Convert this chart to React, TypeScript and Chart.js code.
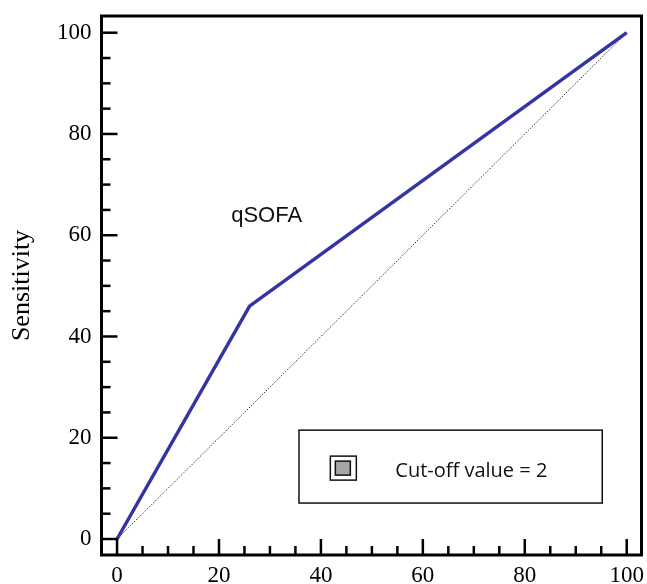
import React, { useEffect, useRef } from "react";
import { Chart, registerables } from "chart.js";

Chart.register(...registerables);

// ---- data ----
const curveX = [0, 26, 100]; // 100 - Specificity
const curveY = [0, 46, 100]; // Sensitivity
const refX = [0, 100];
const refY = [0, 100];
const xTickValues = [0, 20, 40, 60, 80, 100];
const yTickValues = [0, 20, 40, 60, 80, 100];
const minorStep = 5;
const curveLabel = "qSOFA";
const legendText = "Cut-off value = 2";
const yTitle = "Sensitivity";

const SERIF = "'Liberation Serif', 'Times New Roman', serif";
const SANS = "'Liberation Sans', Arial, sans-serif";

const framePlugin = {
  id: "framePlugin",
  afterDraw(chart: any) {
    const { ctx, chartArea } = chart;
    const xs = chart.scales.x;
    const ys = chart.scales.y;
    ctx.save();
    // ticks (inward)
    ctx.strokeStyle = "#000";
    ctx.lineWidth = 2.5;
    ctx.lineCap = "butt";
    for (let v = 0; v <= 100; v += minorStep) {
      const major = v % 20 === 0;
      const len = major ? 16 : 9;
      const px = xs.getPixelForValue(v);
      ctx.beginPath();
      ctx.moveTo(px, chartArea.bottom);
      ctx.lineTo(px, chartArea.bottom - len);
      ctx.stroke();
      const py = ys.getPixelForValue(v);
      ctx.beginPath();
      ctx.moveTo(chartArea.left, py);
      ctx.lineTo(chartArea.left + len, py);
      ctx.stroke();
    }
    // frame
    ctx.lineWidth = 3;
    ctx.strokeRect(
      chartArea.left,
      chartArea.top,
      chartArea.right - chartArea.left,
      chartArea.bottom - chartArea.top
    );

    // curve label
    ctx.fillStyle = "#111";
    ctx.font = `22px ${SANS}`;
    ctx.textAlign = "left";
    ctx.textBaseline = "alphabetic";
    ctx.fillText(curveLabel, xs.getPixelForValue(22.4), ys.getPixelForValue(62.6));

    // legend box
    const bx1 = xs.getPixelForValue(35.7);
    const bx2 = xs.getPixelForValue(95.2);
    const by1 = ys.getPixelForValue(21.5);
    const by2 = ys.getPixelForValue(7.1);
    ctx.lineWidth = 1.5;
    ctx.strokeStyle = "#111";
    ctx.strokeRect(bx1, by1, bx2 - bx1, by2 - by1);
    // marker
    const mx = xs.getPixelForValue(44.4);
    const my = ys.getPixelForValue(14.0);
    ctx.strokeRect(mx - 13, my - 12, 26, 24);
    ctx.fillStyle = "#a6a6a6";
    ctx.fillRect(mx - 8, my - 7, 15, 14);
    ctx.strokeRect(mx - 8, my - 7, 15, 14);
    // legend text
    ctx.fillStyle = "#111";
    ctx.font = `20px 'Open Sans', ${SANS}`;
    ctx.fillText(legendText, xs.getPixelForValue(54.6), ys.getPixelForValue(12.2));
    ctx.restore();
  },
};

export default function App() {
  const ref = useRef<HTMLCanvasElement | null>(null);
  useEffect(() => {
    document.body.style.margin = "0";
    const canvas = ref.current;
    if (!canvas) return;
    const chart = new Chart(canvas, {
      type: "scatter",
      data: {
        datasets: [
          {
            data: refX.map((x, i) => ({ x, y: refY[i] })),
            showLine: true,
            borderColor: "#333",
            borderWidth: 1,
            borderDash: [1.5, 1.5],
            pointRadius: 0,
            order: 2,
          },
          {
            data: curveX.map((x, i) => ({ x, y: curveY[i] })),
            showLine: true,
            borderColor: "#3434a4",
            borderWidth: 3.5,
            pointRadius: 0,
            order: 1,
          },
        ],
      },
      options: {
        responsive: false,
        animation: false,
        events: [],
        layout: { padding: { top: 16, right: 5.5, left: 0, bottom: 0 } },
        plugins: {
          legend: { display: false },
          tooltip: { enabled: false },
        },
        scales: {
          x: {
            type: "linear",
            min: -3.05,
            max: 102.9,
            grid: { display: false, drawTicks: false },
            border: { display: false },
            afterBuildTicks: (s: any) => {
              s.ticks = xTickValues.map((v) => ({ value: v }));
            },
            afterFit: (s: any) => {
              s.height = 29;
              s.paddingLeft = 0;
              s.paddingRight = 0;
              s.paddingTop = 0;
              s.paddingBottom = 0;
            },
            ticks: {
              color: "#000",
              padding: 7,
              maxRotation: 0,
              autoSkip: false,
              font: { family: SERIF, size: 23 },
            },
          },
          y: {
            type: "linear",
            min: -3.16,
            max: 103.3,
            grid: { display: false, drawTicks: false },
            border: { display: false },
            afterBuildTicks: (s: any) => {
              s.ticks = yTickValues.map((v) => ({ value: v }));
            },
            afterFit: (s: any) => {
              s.width = 101.5;
              s.paddingLeft = 0;
              s.paddingRight = 0;
              s.paddingTop = 0;
              s.paddingBottom = 0;
            },
            title: {
              display: true,
              text: yTitle,
              color: "#000",
              padding: { top: 7, bottom: 0 },
              font: { family: SERIF, size: 26 },
            },
            ticks: {
              color: "#000",
              padding: 10,
              autoSkip: false,
              font: { family: SERIF, size: 23 },
            },
          },
        },
      },
      plugins: [framePlugin],
    } as any);
    return () => chart.destroy();
  }, []);
  return (
    <div style={{ width: 647, height: 584 }}>
      <canvas ref={ref} width={647} height={584} />
    </div>
  );
}
